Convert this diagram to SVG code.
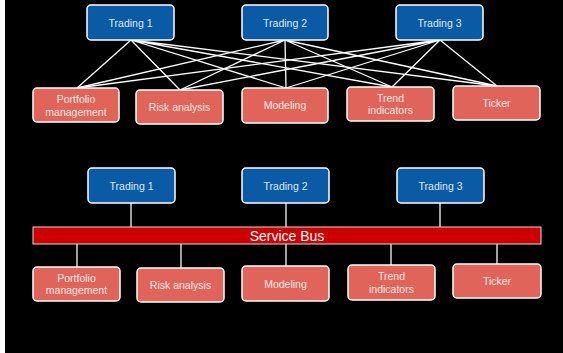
<svg xmlns="http://www.w3.org/2000/svg" width="563" height="353" viewBox="0 0 563 353">
<style>
.bg{fill:#000}
.blue{fill:#0a5aa5;stroke:#fff;stroke-width:1.5}
.red{fill:#e0645a;stroke:#fff;stroke-width:1.5}
.t{font-family:"Liberation Sans",Arial,sans-serif;font-size:10.5px;text-anchor:middle}
.tb{fill:#dfe8f2}
.tr{fill:#fbe9e6}
.ln{stroke:#fff;stroke-width:1.3;fill:none}
.ln2{stroke:#d6d6d6;stroke-width:1.5;fill:none}
.bus{fill:#cc0000;stroke:#dcdcdc;stroke-width:1}
.bust{font-family:"Liberation Sans",Arial,sans-serif;font-size:14px;fill:#fff;text-anchor:middle}
</style>
<rect x="0" y="0" width="563" height="353" fill="#fff"/>
<rect class="bg" x="5" y="0" width="558" height="353"/>
<g id="connectors-top">
<path class="ln" d="M131 40L77 88M131 40L180 90M131 40L286 88M131 40L392 87M131 40L497 86"/>
<path class="ln" d="M285 40L77 88M285 40L180 90M285 40L286 88M285 40L392 87M285 40L497 86"/>
<path class="ln" d="M440 40L77 88M440 40L180 90M440 40L286 88M440 40L392 87M440 40L497 86"/>
</g>
<g id="connectors-bottom">
<path class="ln2" d="M131 203V227M286 203V227M440 203V227"/>
<path class="ln2" d="M77 244V267M181 244V268M286 244V266M391 244V265M497 244V264"/>
</g>
<g id="t1a"><rect class="blue" x="87" y="5" width="87" height="35" rx="4"/><text class="t tb" x="130.5" y="26.5">Trading 1</text></g>
<g id="t2a"><rect class="blue" x="242" y="5" width="86" height="35" rx="4"/><text class="t tb" x="285" y="26.5">Trading 2</text></g>
<g id="t3a"><rect class="blue" x="396" y="5" width="87" height="35" rx="4"/><text class="t tb" x="439.5" y="26.5">Trading 3</text></g>
<g id="pma"><rect class="red" x="33" y="88" width="86" height="34" rx="4"/><text class="t tr" x="76" y="103">Portfolio</text><text class="t tr" x="76" y="115.5">management</text></g>
<g id="raa"><rect class="red" x="136" y="90" width="87" height="34" rx="4"/><text class="t tr" x="179.5" y="110.5">Risk analysis</text></g>
<g id="moa"><rect class="red" x="242" y="88" width="86" height="35" rx="4"/><text class="t tr" x="285" y="109">Modeling</text></g>
<g id="tia"><rect class="red" x="347" y="87" width="87" height="34" rx="4"/><text class="t tr" x="390.5" y="101.5">Trend</text><text class="t tr" x="390.5" y="114">indicators</text></g>
<g id="tka"><rect class="red" x="453" y="86" width="87" height="34" rx="4"/><text class="t tr" x="496.5" y="106.5">Ticker</text></g>
<g id="bus"><rect class="bus" x="33" y="227" width="508" height="17"/><text class="bust" x="287" y="241">Service Bus</text></g>
<g id="t1b"><rect class="blue" x="88" y="168" width="87" height="35" rx="4"/><text class="t tb" x="131.5" y="189.5">Trading 1</text></g>
<g id="t2b"><rect class="blue" x="242" y="168" width="87" height="35" rx="4"/><text class="t tb" x="285.5" y="189.5">Trading 2</text></g>
<g id="t3b"><rect class="blue" x="397" y="168" width="87" height="35" rx="4"/><text class="t tb" x="440.5" y="189.5">Trading 3</text></g>
<g id="pmb"><rect class="red" x="33" y="267" width="87" height="34" rx="4"/><text class="t tr" x="76.5" y="281.5">Portfolio</text><text class="t tr" x="76.5" y="294">management</text></g>
<g id="rab"><rect class="red" x="137" y="268" width="87" height="34" rx="4"/><text class="t tr" x="180.5" y="289">Risk analysis</text></g>
<g id="mob"><rect class="red" x="242" y="266" width="87" height="35" rx="4"/><text class="t tr" x="285.5" y="287.5">Modeling</text></g>
<g id="tib"><rect class="red" x="348" y="265" width="87" height="35" rx="4"/><text class="t tr" x="391.5" y="280">Trend</text><text class="t tr" x="391.5" y="292.5">indicators</text></g>
<g id="tkb"><rect class="red" x="453" y="264" width="88" height="34" rx="4"/><text class="t tr" x="497" y="285">Ticker</text></g>
</svg>
